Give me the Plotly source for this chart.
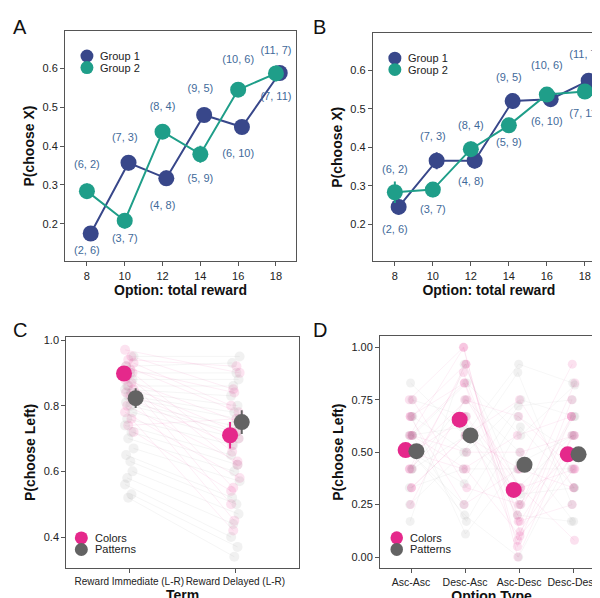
import plotly.graph_objects as go

# ---------------- data ----------------
rewards = [8, 10, 12, 14, 16, 18]
A_g1 = [0.175, 0.357, 0.317, 0.480, 0.449, 0.588]
A_g2 = [0.284, 0.208, 0.437, 0.379, 0.545, 0.587]
A_err1 = [0.018, 0.02, 0.02, 0.018, 0.017, 0.018]
A_err2 = [0.02, 0.02, 0.018, 0.022, 0.015, 0.02]
B_g1 = [0.245, 0.365, 0.365, 0.520, 0.525, 0.573]
B_g2 = [0.283, 0.290, 0.395, 0.457, 0.537, 0.545]
B_err1 = [0.02, 0.022, 0.02, 0.02, 0.02, 0.017]
B_err2 = [0.028, 0.02, 0.02, 0.02, 0.017, 0.015]
lab_text = ["(2, 6)", "(6, 2)", "(3, 7)", "(7, 3)", "(4, 8)", "(8, 4)",
            "(5, 9)", "(9, 5)", "(6, 10)", "(10, 6)", "(7, 11)", "(11, 7)"]
lab_x = [8, 8, 10, 10, 12, 12, 14, 14, 16, 16, 18, 18]
A_lab_y = [0.13, 0.35, 0.16, 0.42, 0.245, 0.50, 0.315, 0.545, 0.38, 0.62, 0.525, 0.645]
B_lab_y = [0.185, 0.34, 0.235, 0.425, 0.31, 0.455, 0.41, 0.58, 0.465, 0.61, 0.485, 0.64]

C_terms = ["Reward Immediate (L-R)", "Reward Delayed (L-R)"]
C_col_mean = [0.898, 0.710]
C_col_err = [0.02, 0.04]
C_pat_mean = [0.823, 0.750]
C_pat_err = [0.03, 0.036]
C_col_imm = [0.97, 0.95, 0.94, 0.93, 0.92, 0.91, 0.90, 0.89, 0.88, 0.87, 0.86, 0.85,
             0.84, 0.83, 0.82, 0.80, 0.78, 0.76, 0.74, 0.72]
C_col_del = [0.90, 0.85, 0.92, 0.80, 0.78, 0.84, 0.66, 0.62, 0.75, 0.55, 0.72, 0.50,
             0.70, 0.45, 0.68, 0.63, 0.58, 0.42, 0.76, 0.54]
C_pat_imm = [0.95, 0.92, 0.90, 0.88, 0.86, 0.85, 0.84, 0.83, 0.82, 0.81, 0.80, 0.78,
             0.76, 0.74, 0.72, 0.70, 0.67, 0.65, 0.63, 0.60, 0.58, 0.56, 0.53, 0.52]
C_pat_del = [0.95, 0.93, 0.90, 0.88, 0.86, 0.83, 0.80, 0.78, 0.76, 0.74, 0.72, 0.70,
             0.68, 0.65, 0.62, 0.60, 0.57, 0.52, 0.50, 0.47, 0.44, 0.40, 0.37, 0.34]
jit = [-0.04, 0.02, -0.01, 0.04, -0.03, 0.01, 0.03, -0.02]

D_types = ["Asc-Asc", "Desc-Asc", "Asc-Desc", "Desc-Desc"]
D_col_mean = [0.51, 0.655, 0.32, 0.49]
D_pat_mean = [0.505, 0.58, 0.44, 0.49]
D_col = [  # per subject: Asc-Asc, Desc-Asc, Asc-Desc, Desc-Desc
    [0.75, 1.00, 0.05, 0.67], [0.67, 0.92, 0.17, 0.58], [0.58, 0.83, 0.25, 0.50],
    [0.50, 0.75, 0.33, 0.42], [0.42, 0.67, 0.08, 0.75], [0.33, 0.58, 0.42, 0.33],
    [0.58, 0.50, 0.50, 0.58], [0.67, 0.83, 0.17, 0.25], [0.50, 0.42, 0.58, 0.67],
    [0.42, 0.92, 0.12, 0.50], [0.25, 0.75, 0.67, 0.42], [0.75, 0.33, 0.25, 0.83],
    [0.58, 1.00, 0.00, 0.58], [0.33, 0.58, 0.75, 0.33], [0.50, 0.67, 0.33, 0.08],
    [0.67, 0.25, 0.42, 0.92], [0.42, 0.88, 0.20, 0.67], [0.58, 0.42, 0.10, 0.42],
]
D_pat = [
    [0.83, 0.58, 0.92, 0.83], [0.67, 0.50, 0.75, 0.67], [0.50, 0.25, 0.67, 0.50],
    [0.42, 0.75, 0.50, 0.17], [0.58, 0.17, 0.62, 0.33], [0.17, 0.92, 0.33, 0.58],
    [0.33, 0.42, 0.42, 0.42], [0.75, 0.67, 0.25, 0.67], [0.50, 0.20, 0.00, 0.50],
    [0.58, 0.83, 0.58, 0.82], [0.25, 0.50, 0.88, 0.25], [0.67, 0.11, 0.45, 0.58],
    [0.42, 0.58, 0.30, 0.33], [0.50, 0.35, 0.72, 0.75], [0.58, 0.62, 0.20, 0.17],
]

BLUE = "#38478a"; GREEN = "#1f9e89"; PINK = "#e5288b"; GREY = "#636363"; LAB = "#3f6a9a"
FONT = "Liberation Sans"

fig = go.Figure()

def line_panel(xa, ya, g1, g2, e1, e2, laby):
    fig.add_trace(go.Scatter(x=[r + 0.2 for r in rewards], y=g1, mode="lines+markers",
        line=dict(color=BLUE, width=2), marker=dict(color=BLUE, size=16),
        error_y=dict(array=e1, color=BLUE, thickness=2, width=0),
        xaxis=xa, yaxis=ya, showlegend=False))
    fig.add_trace(go.Scatter(x=rewards, y=g2, mode="lines+markers",
        line=dict(color=GREEN, width=2), marker=dict(color=GREEN, size=16),
        error_y=dict(array=e2, color=GREEN, thickness=2, width=0),
        xaxis=xa, yaxis=ya, showlegend=False))
    fig.add_trace(go.Scatter(x=lab_x, y=laby, mode="text", text=lab_text,
        textfont=dict(color=LAB, size=11, family=FONT), xaxis=xa, yaxis=ya,
        showlegend=False, hoverinfo="skip"))

line_panel("x", "y", A_g1, A_g2, A_err1, A_err2, A_lab_y)
line_panel("x2", "y2", B_g1, B_g2, B_err1, B_err2, B_lab_y)

# Panel C individual
for i in range(len(C_col_imm)):
    j = jit[i % len(jit)]
    fig.add_trace(go.Scatter(x=[1 + j, 2 - j], y=[C_col_imm[i], C_col_del[i]], mode="lines+markers",
        line=dict(color="rgba(229,40,139,0.08)", width=1),
        marker=dict(color="rgba(229,40,139,0.13)", size=10),
        xaxis="x3", yaxis="y3", showlegend=False, hoverinfo="skip"))
for i in range(len(C_pat_imm)):
    j = jit[(i + 3) % len(jit)]
    fig.add_trace(go.Scatter(x=[1 + j, 2 + j], y=[C_pat_imm[i], C_pat_del[i]], mode="lines+markers",
        line=dict(color="rgba(120,120,120,0.07)", width=1),
        marker=dict(color="rgba(140,140,140,0.12)", size=10),
        xaxis="x3", yaxis="y3", showlegend=False, hoverinfo="skip"))
fig.add_trace(go.Scatter(x=[0.95, 1.95], y=C_col_mean, mode="markers",
    marker=dict(color=PINK, size=16), error_y=dict(array=C_col_err, color=PINK, thickness=2, width=0),
    xaxis="x3", yaxis="y3", showlegend=False))
fig.add_trace(go.Scatter(x=[1.06, 2.06], y=C_pat_mean, mode="markers",
    marker=dict(color=GREY, size=16), error_y=dict(array=C_pat_err, color=GREY, thickness=2, width=0),
    xaxis="x3", yaxis="y3", showlegend=False))

# Panel D individual
for i, s in enumerate(D_col):
    j = jit[i % len(jit)] * 0.8
    fig.add_trace(go.Scatter(x=[k + j for k in range(4)], y=s, mode="lines+markers",
        line=dict(color="rgba(229,40,139,0.07)", width=1),
        marker=dict(color="rgba(229,40,139,0.14)", size=9),
        xaxis="x4", yaxis="y4", showlegend=False, hoverinfo="skip"))
for i, s in enumerate(D_pat):
    j = jit[(i + 2) % len(jit)] * 0.8
    fig.add_trace(go.Scatter(x=[k + j for k in range(4)], y=s, mode="lines+markers",
        line=dict(color="rgba(120,120,120,0.06)", width=1),
        marker=dict(color="rgba(140,140,140,0.12)", size=9),
        xaxis="x4", yaxis="y4", showlegend=False, hoverinfo="skip"))
fig.add_trace(go.Scatter(x=[k - 0.1 for k in range(4)], y=D_col_mean, mode="markers",
    marker=dict(color=PINK, size=16), xaxis="x4", yaxis="y4", showlegend=False))
fig.add_trace(go.Scatter(x=[k + 0.1 for k in range(4)], y=D_pat_mean, mode="markers",
    marker=dict(color=GREY, size=16), xaxis="x4", yaxis="y4", showlegend=False))

axcommon = dict(showline=True, linecolor="#555", linewidth=1, mirror=True, ticks="outside",
                ticklen=4, tickcolor="#555", showgrid=False, zeroline=False, tickangle=0,
                tickfont=dict(size=11, color="#222", family=FONT))
ttl = lambda t: dict(text="<b>" + t + "</b>", font=dict(size=14, color="#111", family=FONT), standoff=4)

fig.update_layout(
    width=600, height=598, margin=dict(l=0, r=0, t=0, b=0),
    plot_bgcolor="white", paper_bgcolor="white", font=dict(family=FONT),
    xaxis=dict(axcommon, domain=[0.095, 0.48], range=[6.84, 19.06], tickvals=rewards,
               anchor="y", title=ttl("Option: total reward")),
    yaxis=dict(axcommon, domain=[0.579, 0.967], range=[0.103, 0.697],
               tickvals=[0.2, 0.3, 0.4, 0.5, 0.6], anchor="x", title=ttl("P(choose X)")),
    xaxis2=dict(axcommon, domain=[0.608, 0.995], range=[6.84, 19.06], tickvals=rewards,
                anchor="y2", title=ttl("Option: total reward")),
    yaxis2=dict(axcommon, domain=[0.579, 0.963], range=[0.103, 0.697],
                tickvals=[0.2, 0.3, 0.4, 0.5, 0.6], anchor="x2", title=ttl("P(choose X)")),
    xaxis3=dict(axcommon, domain=[0.097, 0.485], range=[0.405, 2.6], tickvals=[1, 2],
                ticktext=C_terms, anchor="y3", title=ttl("Term"),
                tickfont=dict(size=10, color="#222", family=FONT)),
    yaxis3=dict(axcommon, domain=[0.064, 0.452], range=[0.306, 1.009],
                tickvals=[0.4, 0.6, 0.8, 1.0], tickformat=".1f", anchor="x3", title=ttl("P(choose Left)")),
    xaxis4=dict(axcommon, domain=[0.62, 0.992], range=[-0.574, 3.556], tickvals=[0, 1, 2, 3],
                ticktext=D_types, anchor="y4", title=ttl("Option Type"),
                tickfont=dict(size=10.5, color="#222", family=FONT)),
    yaxis4=dict(axcommon, domain=[0.064, 0.453], range=[-0.052, 1.052],
                tickvals=[0, 0.25, 0.5, 0.75, 1.0], tickformat=".2f", anchor="x4", title=ttl("P(choose Left)")),
)

ann = []
for t, x, y in [("A", 0.005, 0.995), ("B", 0.505, 0.995), ("C", 0.005, 0.485), ("D", 0.505, 0.485)]:
    ann.append(dict(text=t, x=x, y=y, xref="paper", yref="paper", xanchor="left", yanchor="top",
                    showarrow=False, font=dict(size=20, color="#111", family=FONT)))

def legend(xr, yr, x0, y0, labels, colors):
    for k, (lb, c) in enumerate(zip(labels, colors)):
        yy = y0 - k * 0.05
        fig.add_shape(type="circle", xref=xr, yref=yr, x0=x0 - 0.028, x1=x0 + 0.028,
                      y0=yy - 0.028, y1=yy + 0.028, fillcolor=c, line=dict(width=0))
        ann.append(dict(text=lb, x=x0 + 0.05, y=yy, xref=xr, yref=yr, xanchor="left", yanchor="middle",
                        showarrow=False, font=dict(size=11, color="#222", family=FONT)))

legend("x domain", "y domain", 0.095, 0.89, ["Group 1", "Group 2"], [BLUE, GREEN])
legend("x2 domain", "y2 domain", 0.095, 0.89, ["Group 1", "Group 2"], [BLUE, GREEN])
legend("x3 domain", "y3 domain", 0.065, 0.13, ["Colors", "Patterns"], [PINK, GREY])
legend("x4 domain", "y4 domain", 0.075, 0.13, ["Colors", "Patterns"], [PINK, GREY])
fig.update_layout(annotations=ann)

fig.write_html("out.html")
